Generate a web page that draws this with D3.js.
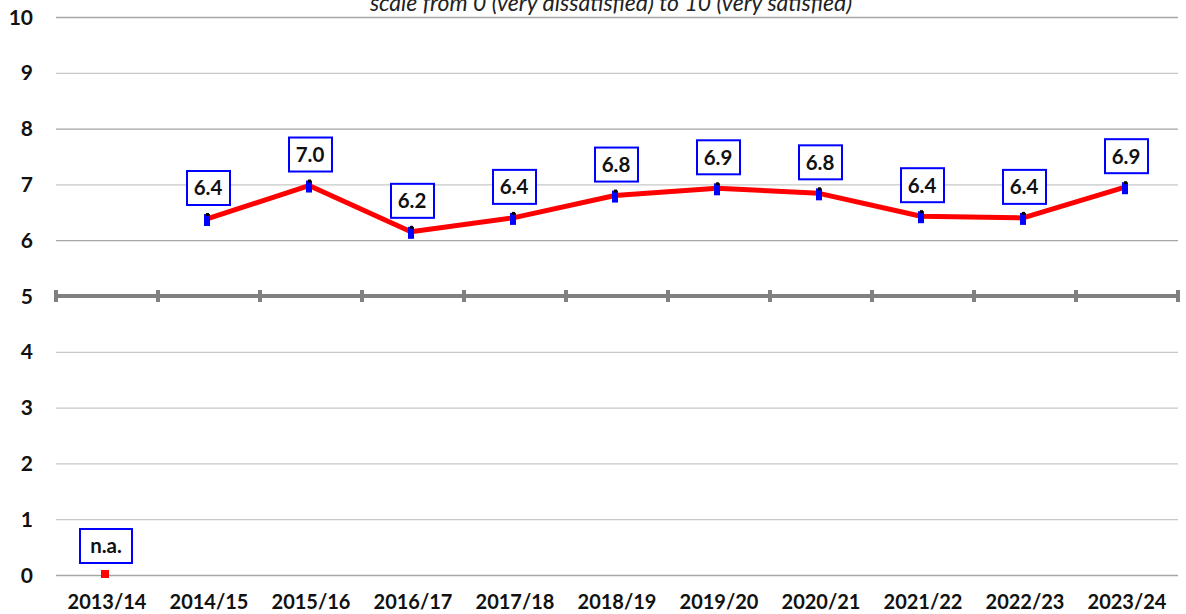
<!DOCTYPE html>
<html>
<head>
<meta charset="utf-8">
<script src="https://cdn.jsdelivr.net/npm/d3@7"></script>
<style>
  body { margin: 0; background: #fff; }
  svg { display: block; font-family: Lato, 'Open Sans', sans-serif; }
</style>
</head>
<body>
<div id="graf"></div>
<script>
const years = ['2013/14', '2014/15', '2015/16', '2016/17', '2017/18', '2018/19', '2019/20', '2020/21', '2021/22', '2022/23', '2023/24']
const scores = [null, 6.38, 6.98, 6.15, 6.4, 6.8, 6.93, 6.84, 6.43, 6.4, 6.95]
const labelsTxt = ['n.a.', '6.4', '7.0', '6.2', '6.4', '6.8', '6.9', '6.8', '6.4', '6.4', '6.9']
const yTicks = [0, 1, 2, 3, 4, 5, 6, 7, 8, 9, 10]
const subtitle = 'scale from 0 (very dissatisfied) to 10 (very satisfied)'

const anchoTotal = 1186
const altoTotal = 614
const margin = { top: 17, bottom: 39, left: 56, right: 8 }
const ancho = anchoTotal - margin.left - margin.right
const alto = altoTotal - margin.top - margin.bottom

const svg = d3.select('#graf')
  .append('svg')
  .attr('width', anchoTotal)
  .attr('height', altoTotal)

const g = svg.append('g')
  .attr('transform', `translate(${margin.left}, ${margin.top})`)

const x = d3.scaleBand()
  .domain(years)
  .range([0, ancho])

const y = d3.scaleLinear()
  .domain([0, 10])
  .range([alto, 0])

// subtitle (sits at the very top, as in the source)
svg.append('text')
  .attr('x', 611)
  .attr('y', 11)
  .attr('text-anchor', 'middle')
  .attr('font-style', 'italic')
  .attr('font-size', 23)
  .attr('fill', '#222')
  .text(subtitle)

// gridlines
g.selectAll('.grid')
  .data(yTicks.filter(d => d !== 5))
  .enter()
  .append('line')
  .attr('x1', 0)
  .attr('x2', ancho)
  .attr('y1', d => y(d) + 0.5)
  .attr('y2', d => y(d) + 0.5)
  .attr('stroke', d => (d === 0 || d === 10 || d === 8 || d === 6) ? '#a6a6a6' : '#c8c8c8')
  .attr('stroke-width', 1.3)

// mid line at 5 with ticks
g.append('line')
  .attr('x1', 0)
  .attr('x2', ancho)
  .attr('y1', y(5))
  .attr('y2', y(5))
  .attr('stroke', '#808080')
  .attr('stroke-width', 4)

g.selectAll('.tick5')
  .data(years.concat(['end']))
  .enter()
  .append('rect')
  .attr('x', (d, i) => (i < years.length ? x(d) : ancho) - 2)
  .attr('y', y(5) - 6)
  .attr('width', 4)
  .attr('height', 12)
  .attr('fill', '#808080')

// y axis labels
g.selectAll('.ylab')
  .data(yTicks)
  .enter()
  .append('text')
  .attr('x', -23)
  .attr('y', d => y(d))
  .attr('dy', '0.36em')
  .attr('text-anchor', 'end')
  .attr('font-weight', 'bold')
  .attr('font-size', 21)
  .attr('fill', '#111')
  .text(d => d)

// x axis labels
g.selectAll('.xlab')
  .data(years)
  .enter()
  .append('text')
  .attr('x', d => x(d) + x.bandwidth() / 2)
  .attr('y', alto + 34)
  .attr('text-anchor', 'middle')
  .attr('font-weight', 'bold')
  .attr('font-size', 20)
  .attr('fill', '#111')
  .text(d => d)

const cx = d => x(d) + x.bandwidth() / 2 - 2

const data = years.map((yr, i) => ({ yr, v: scores[i], lab: labelsTxt[i] }))
const valid = data.filter(d => d.v !== null)

const linea = d3.line()
  .x(d => cx(d.yr))
  .y(d => y(d.v))

g.append('path')
  .datum(valid)
  .attr('d', linea)
  .attr('fill', 'none')
  .attr('stroke', '#ff0000')
  .attr('stroke-width', 5)
  .attr('stroke-linejoin', 'round')

// markers
g.selectAll('.mk')
  .data(valid)
  .enter()
  .append('rect')
  .attr('x', d => cx(d.yr) - 3)
  .attr('y', d => y(d.v) - 5)
  .attr('width', 6)
  .attr('height', 12)
  .attr('fill', '#0000ff')

g.selectAll('.mkdot')
  .data(valid)
  .enter()
  .append('rect')
  .attr('x', d => cx(d.yr) - 1)
  .attr('y', d => y(d.v) - 6)
  .attr('width', 3)
  .attr('height', 3)
  .attr('fill', '#000')

// n.a. marker
const na = data.filter(d => d.v === null)
g.selectAll('.na')
  .data(na)
  .enter()
  .append('rect')
  .attr('x', d => cx(d.yr) - 4)
  .attr('y', y(0) - 5)
  .attr('width', 8)
  .attr('height', 8)
  .attr('fill', '#ff0000')

// label boxes
const lab = g.selectAll('.lab')
  .data(data)
  .enter()
  .append('g')
  .attr('transform', d => `translate(${cx(d.yr) + 1}, ${d.v === null ? y(0) - 29 : y(d.v) - 31})`)

lab.append('rect')
  .attr('x', d => d.v === null ? -26 : -21)
  .attr('y', -17)
  .attr('width', d => d.v === null ? 52 : 43)
  .attr('height', 34)
  .attr('fill', '#fff')
  .attr('stroke', '#0000ff')
  .attr('stroke-width', 2)

lab.append('text')
  .attr('text-anchor', 'middle')
  .attr('dy', '0.36em')
  .attr('font-weight', 'bold')
  .attr('font-size', 20.5)
  .attr('fill', '#111')
  .text(d => d.lab)
</script>
</body>
</html>
